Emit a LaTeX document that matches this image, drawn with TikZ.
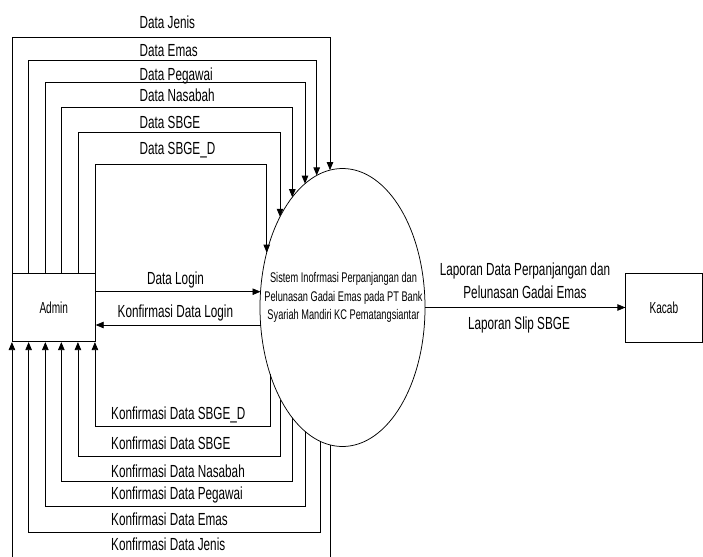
\documentclass[tikz,border=0pt]{standalone}
\usepackage{fontspec}
\setmainfont{Liberation Sans}
\newfontfamily\lblf[FakeStretch=0.67]{Liberation Sans}
\newfontfamily\elf[FakeStretch=0.66]{Liberation Sans}
\newfontfamily\entf[FakeStretch=0.63]{Liberation Sans}
\usetikzlibrary{arrows.meta,shapes.geometric}
\tikzset{
  lbl/.style={font=\lblf\fontsize{17.5}{20}\selectfont, inner sep=0pt, anchor=base west},
  lblc/.style={font=\lblf\fontsize{17.5}{20}\selectfont, inner sep=0pt, anchor=base},
  entity/.style={draw, line width=0.75pt, inner sep=0pt, font=\entf\fontsize{16}{18}\selectfont},
  proc/.style={draw, ellipse, line width=0.75pt, inner sep=0pt},
  flow/.style={draw, line width=0.75pt, -{Triangle[length=8pt,width=6.5pt]}},
  line/.style={draw, line width=0.75pt},
}
\begin{document}
\begin{tikzpicture}[x=1pt,y=-1pt,
  declare function={ey(\x)=139*sqrt(1-((\x-342.5)/82.5)*((\x-342.5)/82.5));
                     ex(\y)=82.5*sqrt(1-((\y-307.5)/139)*((\y-307.5)/139));}]
\useasboundingbox (0,0) rectangle (703,556);
\clip (0,0) rectangle (703,556);

% nodes
\node[entity, minimum width=83pt, minimum height=68.4pt] (admin) at (53.8,307.5) {Admin};
\node[entity, minimum width=76.3pt, minimum height=69pt] (kacab) at (663.9,307.5) {Kacab};
\node[proc, minimum width=165pt, minimum height=278pt] (sys) at (342.5,307.5) {};
\node[font=\elf\fontsize{14}{18.3}\selectfont, align=center, inner sep=0pt] (systxt) at (343.5,297.4)
  {Sistem Inofrmasi Perpanjangan dan\\Pelunasan Gadai Emas pada PT Bank\\Syariah Mandiri KC Pematangsiantar};

% top flows (Admin -> system)
\foreach \dx/\xr/\yy/\n in {0/330/37.3/1, 16.7/316.7/60.7/2, 33.4/305/82/3, 49.4/292.3/107.7/4, 66/280/132.7/5, 83/266.7/164.3/6}{
  \coordinate (t\n) at (\xr,{307.5-ey(\xr)});
  \coordinate (an\n) at ([xshift=\dx pt]admin.north west);
  \draw[flow] (an\n) |- (t\n |- 0,\yy) -- (t\n);
}

% bottom flows (system -> Admin)
\foreach \dx/\xr/\yy/\n in {83/270/426.7/1, 66/280.7/456.7/2, 49.4/292.3/481.7/3, 33.4/305.7/506/4, 16.7/320/532.3/5, 0/330/566/6}{
  \coordinate (b\n) at (\xr,{307.5+ey(\xr)});
  \coordinate (as\n) at ([xshift=\dx pt]admin.south west);
  \draw[flow] (b\n) |- (as\n |- 0,\yy) -- (as\n);
}

% login flows
\coordinate (l1) at ({342.5-ex(291.7)},291.7);
\coordinate (l2) at ({342.5-ex(325)},325);
\draw[flow] (admin.east |- l1) -- (l1);
\draw[flow] (l2) -- (admin.east |- l2);

% report flow
\draw[flow] (sys.east) -- (kacab.west);

% labels top
\node[lbl] (lj) at (139.5,29) {Data Jenis};
\node[lbl] (le) at (139.5,57) {Data Emas};
\node[lbl] (lp) at (139.5,80.5) {Data Pegawai};
\node[lbl] (ln) at (139.5,102) {Data Nasabah};
\node[lbl] (ls) at (139.5,129) {Data SBGE};
\node[lbl] (lsd) at (139.5,154) {Data SBGE\_D};

% login labels
\node[lbl] (ll) at (147,284) {Data Login};
\node[lbl] (lkl) at (117.5,317) {Konfirmasi Data Login};

% labels bottom
\node[lbl] (ksd) at (111,419) {Konfirmasi Data SBGE\_D};
\node[lbl] (ks) at (111,449) {Konfirmasi Data SBGE};
\node[lbl] (kn) at (111,477) {Konfirmasi Data Nasabah};
\node[lbl] (kp) at (111,499) {Konfirmasi Data Pegawai};
\node[lbl] (ke) at (111,525.5) {Konfirmasi Data Emas};
\node[lbl] (kj) at (111,550.5) {Konfirmasi Data Jenis};

% report labels
\node[lblc] (r1) at (525,275.5) {Laporan Data Perpanjangan dan};
\node[lblc] (r2) at (525,298) {Pelunasan Gadai Emas};
\node[lblc] (r3) at (519,329) {Laporan Slip SBGE};
\end{tikzpicture}
\end{document}
